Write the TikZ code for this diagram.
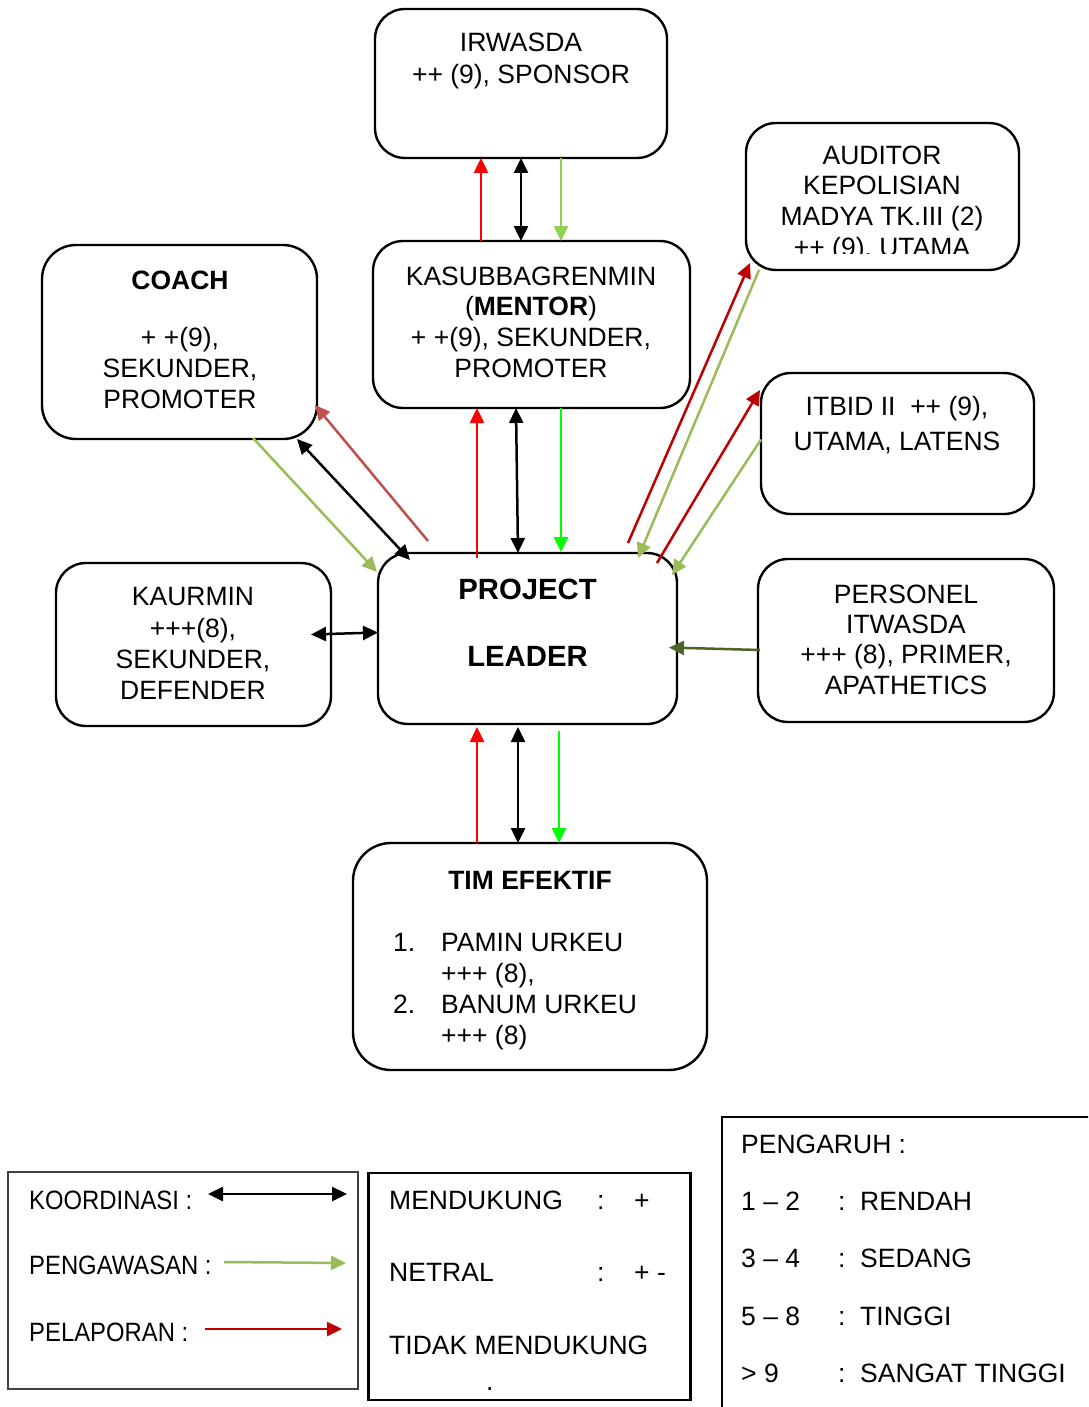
\documentclass[tikz,border=0pt]{standalone}
\usepackage{graphicx}
\usepackage{fontspec}
\setmainfont{Liberation Sans}
\usetikzlibrary{arrows.meta,calc}
\definecolor{lgreen}{HTML}{92D050}
\definecolor{bgreen}{HTML}{00FF00}
\definecolor{ogreen}{HTML}{9BBB59}
\definecolor{dred}{HTML}{C00000}
\definecolor{rosered}{HTML}{C0504D}
\definecolor{olive}{HTML}{4F6228}

\begin{document}
\begin{tikzpicture}[x=1pt,y=-1pt,
  box/.style={draw, line width=2.4pt, rounded corners=30pt, inner sep=0pt, outer sep=0pt},
  txt/.style={font=\fontsize{26.5}{30.7}\selectfont, align=center, inner sep=0pt, anchor=north},
  legtxt/.style={font=\fontsize{26.5}{30.7}\selectfont, inner sep=0pt, anchor=base west},
  con/.style={line width=2.5pt},
  onetip/.style={con, -{Triangle[length=15pt,width=14pt]}},
  twotip/.style={con, {Triangle[length=15pt,width=14pt]}-{Triangle[length=15pt,width=14pt]}}
]
\clip (0,0) rectangle (1088,1407);
\fill[white] (0,0) rectangle (1088,1407);

% ---------- stakeholder boxes ----------
\node[box, minimum width=292pt, minimum height=149pt] (irw)   at (521,83.5)    {};
\node[box, minimum width=317pt, minimum height=167pt] (kas)   at (531.5,324.5) {};
\node[box, minimum width=273pt, minimum height=147pt] (aud)   at (882.5,196.5) {};
\node[box, minimum width=275pt, minimum height=194pt, rounded corners=34pt] (coach) at (179.5,342) {};
\node[box, minimum width=273pt, minimum height=141pt] (itbid) at (897.5,443.5) {};
\node[box, minimum width=275pt, minimum height=163pt] (kaur)  at (193.5,644.5) {};
\node[box, minimum width=299pt, minimum height=171pt] (pl)    at (527.5,638.5) {};
\node[box, minimum width=296pt, minimum height=163pt] (pers)  at (906,640.5)   {};
\node[box, minimum width=354pt, minimum height=227pt, rounded corners=38pt] (tim) at (530,956.5) {};

% ---------- box texts ----------
\node[txt, font=\fontsize{26.5}{32}\selectfont] (irwT) at (521,32.5) {IRWASDA\\++ (9), SPONSOR};
\node[txt] (kasT) at (531,266.5) {KASUBBAGRENMIN\\(\textbf{MENTOR})\\+ +(9), SEKUNDER,\\PROMOTER};
\begin{scope}
  \clip (746,123) rectangle (1019,253);
  \node[txt] (audT) at (882,145.5) {AUDITOR\\KEPOLISIAN\\MADYA TK.III (2)\\++ (9), UTAMA};
\end{scope}
\node[txt] (coachT) at (180,270.5) {\textbf{COACH}\\[27pt]+ +(9),\\SEKUNDER,\\PROMOTER};
\node[txt] (itbidT) at (897,396.5) {ITBID II\ \ ++ (9),\\[4pt]UTAMA, LATENS};
\node[txt, font=\fontsize{26.5}{31.3}\selectfont] (kaurT) at (193,587.5) {KAURMIN\\+++(8),\\SEKUNDER,\\DEFENDER};
\node[txt, font=\fontsize{29.3}{30.7}\selectfont] (plT) at (527.5,578.5) {\textbf{PROJECT}\\[36.3pt]\textbf{LEADER}};
\node[txt, font=\fontsize{26.5}{30.3}\selectfont] (persT) at (906,584.5) {PERSONEL\\ITWASDA\\+++ (8), PRIMER,\\APATHETICS};
\node[txt] (timT) at (530,871.5) {\textbf{TIM EFEKTIF}};
\node[txt, font=\fontsize{26.5}{31}\selectfont, align=left, anchor=north west] (timL) at (393,933.5)
  {\makebox[48pt][l]{1.}PAMIN URKEU\\\hspace*{48pt}+++ (8),\\\makebox[48pt][l]{2.}BANUM URKEU\\\hspace*{48pt}+++ (8)};

% ---------- connectors ----------
% IRWASDA -- KASUBBAGRENMIN
\draw[onetip, red]    ([shift={(-50.5,0)}]kas.north) -- ([shift={(-40,0)}]irw.south);
\draw[twotip, black]  (irw.south) -- ([shift={(-10.5,0)}]kas.north);
\draw[onetip, lgreen] ([shift={(40,0)}]irw.south) -- ([shift={(29.5,0)}]kas.north);
% KASUBBAGRENMIN -- PROJECT LEADER
\draw[onetip, red]    ([shift={(-50.5,5)}]pl.north) -- ([shift={(-54.5,0)}]kas.south);
\draw[twotip, black]  ([shift={(-15.5,0)}]kas.south) -- ([shift={(-9.5,0)}]pl.north);
\draw[onetip, bgreen] ([shift={(29.5,0)}]kas.south) -- ([shift={(33.5,-1)}]pl.north);
% PROJECT LEADER -- TIM EFEKTIF
\draw[onetip, red]    ([shift={(-53,0)}]tim.north) -- ([shift={(-50.5,3)}]pl.south);
\draw[twotip, black]  ([shift={(-9.5,3)}]pl.south) -- ([shift={(-12,0)}]tim.north);
\draw[onetip, bgreen] ([shift={(31.5,7)}]pl.south) -- ([shift={(29,0)}]tim.north);
% COACH -- PROJECT LEADER
\draw[onetip, ogreen]   ([shift={(-64,-1)}]coach.south east) -- ([shift={(-1,19)}]pl.north west);
\draw[twotip, black]    ([shift={(-20,0)}]coach.south east) -- ([shift={(32,7)}]pl.north west);
\draw[onetip, rosered]  ([shift={(50,-12)}]pl.north west) -- ([shift={(-2,-34)}]coach.south east);
% AUDITOR -- PROJECT LEADER
\draw[onetip, dred]   ([shift={(-49,-10)}]pl.north east) -- ([shift={(4,-7)}]aud.south west);
\draw[onetip, ogreen] ([shift={(13,0)}]aud.south west) -- ([shift={(-39,5)}]pl.north east);
% ITBID -- PROJECT LEADER
\draw[onetip, dred]   ([shift={(-20,10)}]pl.north east) -- ([shift={(-1,-53.5)}]itbid.west);
\draw[onetip, ogreen] ([shift={(0,-4)}]itbid.west) -- ([shift={(-5,22)}]pl.north east);
% KAURMIN -- PROJECT LEADER
\draw[twotip, black]  ([shift={(-20,-10)}]kaur.east) -- ([shift={(0,-6)}]pl.west);
% PERSONEL -- PROJECT LEADER
\draw[onetip, olive]  ([shift={(2,9.5)}]pers.west) -- ([shift={(-8,9)}]pl.east);

% ---------- legend: connector types ----------
\node[draw=black!75, line width=1.5pt, inner sep=0pt, minimum width=350pt, minimum height=217pt] (legA) at (183,1280.5) {};
\node[legtxt] (kooT) at (29,1209) {\scalebox{0.9}[1]{KOORDINASI :}};
\node[legtxt] (pengT) at (29,1274) {\scalebox{0.9}[1]{PENGAWASAN :}};
\node[legtxt] (pelT) at (29,1341) {\scalebox{0.9}[1]{PELAPORAN :}};
\coordinate (kooA) at (208,1194);  \coordinate (kooB) at (347,1194);
\coordinate (pengA) at (224,1262); \coordinate (pengB) at (346,1263);
\coordinate (pelA) at (205,1329);  \coordinate (pelB) at (342,1329);
\draw[twotip, black] (kooA) -- (kooB);
\draw[onetip, ogreen] (pengA) -- (pengB);
\draw[onetip, dred] (pelA) -- (pelB);

% ---------- legend: attitude ----------
\node[draw, line width=2.4pt, inner sep=0pt, minimum width=322pt, minimum height=227pt] (legB) at (529.5,1286.5) {};
\node[legtxt] (mendT) at (389,1209) {\makebox[208pt][l]{MENDUKUNG}\makebox[37pt][l]{:}+};
\node[legtxt] (netT) at (389,1281) {\makebox[208pt][l]{NETRAL}\makebox[37pt][l]{:}+ -};
\node[legtxt] (tidT) at (389,1354) {TIDAK MENDUKUNG};
\node[legtxt] (dotT) at (486,1390) {.};

% ---------- legend: influence ----------
\node[draw, line width=2.4pt, inner sep=0pt, minimum width=380pt, minimum height=310pt] (legC) at (912,1272) {};
\node[legtxt] (pgT) at (741,1153) {PENGARUH :};
\node[legtxt] (r1) at (741,1210) {\makebox[97pt][l]{1 – 2}\makebox[22pt][l]{:}RENDAH};
\node[legtxt] (r2) at (741,1267) {\makebox[97pt][l]{3 – 4}\makebox[22pt][l]{:}SEDANG};
\node[legtxt] (r3) at (741,1325) {\makebox[97pt][l]{5 – 8}\makebox[22pt][l]{:}TINGGI};
\node[legtxt] (r4) at (741,1382) {\makebox[97pt][l]{> 9}\makebox[22pt][l]{:}SANGAT TINGGI};
\end{tikzpicture}
\end{document}
